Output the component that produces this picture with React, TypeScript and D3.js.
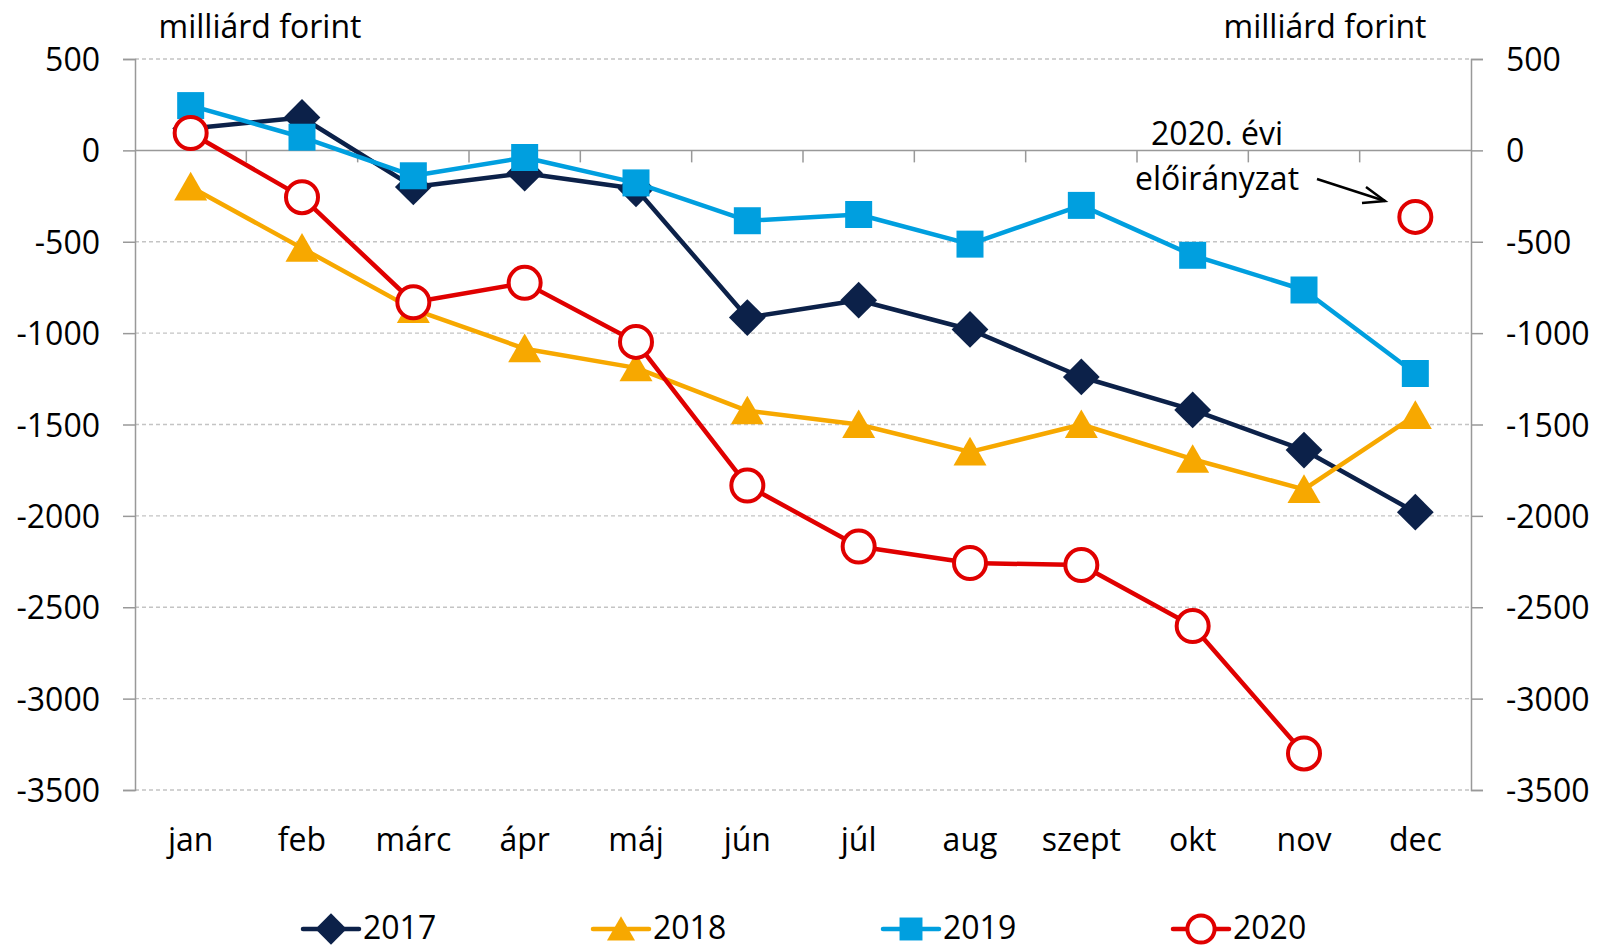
import * as d3 from 'd3';
import { useEffect, useRef } from 'react';

const months = ['jan', 'feb', 'márc', 'ápr', 'máj', 'jún', 'júl', 'aug', 'szept', 'okt', 'nov', 'dec'];
const yTicks = [500, 0, -500, -1000, -1500, -2000, -2500, -3000, -3500];

const values2017 = [120, 180, -200, -125, -210, -915, -820, -980, -1240, -1420, -1640, -1980];
const values2018 = [-200, -535, -870, -1085, -1190, -1425, -1500, -1650, -1500, -1690, -1855, -1450];
const values2019 = [245, 72, -139, -39, -178, -385, -351, -513, -301, -574, -764, -1221];
// 2020: tényadatok jan-nov, dec = előirányzat (külön pont)
const values2020 = [95, -256, -831, -725, -1048, -1834, -2168, -2258, -2269, -2603, -3300, null];
const forecast2020 = { month: 'dec', value: -364 };

const seriesNames = ['2017', '2018', '2019', '2020'];

const W = 1598;
const H = 949;
const FONT = '"Open Sans", sans-serif';
const FS = 32;

export default function App() {
    const ref = useRef<SVGSVGElement>(null);

    useEffect(() => {
        document.body.style.margin = '0';
        const svg = d3.select(ref.current);
        svg.selectAll('*').remove();

        const left = 135, right = 1471, top = 59, bottom = 790;

        const x = d3.scaleBand<string>().domain(months).range([left, right]);
        const y = d3.scaleLinear().domain([-3500, 500]).range([bottom, top]);
        const cx = (m: string) => x(m)! + x.bandwidth() / 2;

        const colors = ['#0c2149', '#f7a800', '#009fdf', '#e00000'];

        // gridlines
        svg.append('g')
            .selectAll('line')
            .data(yTicks.filter(t => t !== 0))
            .join('line')
            .attr('x1', left).attr('x2', right)
            .attr('y1', d => y(d)).attr('y2', d => y(d))
            .attr('stroke', '#c4c4c4')
            .attr('stroke-width', 1.3)
            .attr('stroke-dasharray', '4,3');

        // y axes (both sides)
        const axisColor = '#999999';
        const leftAxis = svg.append('g').attr('transform', `translate(${left},0)`)
            .call(d3.axisLeft(y).tickValues(yTicks).tickSize(12).tickFormat(d => String(d)));
        const rightAxis = svg.append('g').attr('transform', `translate(${right},0)`)
            .call(d3.axisRight(y).tickValues(yTicks).tickSize(12).tickFormat(d => String(d)));
        [leftAxis, rightAxis].forEach(a => {
            a.select('.domain').attr('stroke', axisColor).attr('stroke-width', 1.5);
            a.selectAll('.tick line').attr('stroke', axisColor).attr('stroke-width', 1.5);
            a.selectAll('.tick text')
                .attr('font-family', FONT)
                .attr('font-size', FS)
                .attr('fill', '#000');
        });
        leftAxis.selectAll('.tick text').attr('x', -35).attr('dy', '0.36em');
        rightAxis.selectAll('.tick text').attr('x', 35).attr('dy', '0.36em');

        // x axis at zero
        const xAxis = svg.append('g').attr('transform', `translate(0,${y(0)})`);
        xAxis.append('line')
            .attr('x1', left).attr('x2', right)
            .attr('stroke', axisColor).attr('stroke-width', 1.5);
        xAxis.selectAll('line.tk')
            .data(months.slice(1))
            .join('line')
            .attr('class', 'tk')
            .attr('x1', d => x(d)!).attr('x2', d => x(d)!)
            .attr('y1', 0).attr('y2', 12)
            .attr('stroke', axisColor).attr('stroke-width', 1.5);

        // category labels
        svg.append('g')
            .selectAll('text')
            .data(months)
            .join('text')
            .attr('x', d => cx(d))
            .attr('y', 851)
            .attr('text-anchor', 'middle')
            .attr('font-family', FONT)
            .attr('font-size', FS)
            .text(d => d);

        // unit labels
        svg.append('text').attr('x', 260).attr('y', 38).attr('text-anchor', 'middle')
            .attr('font-family', FONT).attr('font-size', FS).text('milliárd forint');
        svg.append('text').attr('x', 1325).attr('y', 38).attr('text-anchor', 'middle')
            .attr('font-family', FONT).attr('font-size', FS).text('milliárd forint');

        const allSeries = [values2017, values2018, values2019, values2020];

        const drawMarker = (g: any, i: number, px: number, py: number, scale = 1) => {
            if (i === 3) {
                g.append('circle')
                    .attr('cx', px).attr('cy', py).attr('r', 16 * scale)
                    .attr('fill', '#fff')
                    .attr('stroke', colors[3])
                    .attr('stroke-width', 4);
                return;
            }
            let path: string | null;
            if (i === 0) path = d3.symbol(d3.symbolSquare, (26 * scale) ** 2)();
            else if (i === 1) path = d3.symbol(d3.symbolTriangle, (33 * scale) ** 2 * 0.433)();
            else path = d3.symbol(d3.symbolSquare, (27 * scale) ** 2)();
            const rot = i === 0 ? 45 : 0;
            const dy = i === 1 ? 4 * scale : 0;
            g.append('path')
                .attr('d', path)
                .attr('transform', `translate(${px},${py + dy}) rotate(${rot})`)
                .attr('fill', colors[i]);
        };

        allSeries.forEach((vals, i) => {
            const g = svg.append('g');
            const pts = months.map((m, k) => ({ m, v: vals[k] }));
            const line = d3.line<{ m: string; v: number | null }>()
                .defined(d => d.v !== null)
                .x(d => cx(d.m))
                .y(d => y(d.v as number));
            g.append('path')
                .datum(pts)
                .attr('fill', 'none')
                .attr('stroke', colors[i])
                .attr('stroke-width', 4.5)
                .attr('stroke-linejoin', 'round')
                .attr('d', line);
            pts.filter(d => d.v !== null).forEach(d => drawMarker(g, i, cx(d.m), y(d.v as number)));
            if (i === 3) drawMarker(g, 3, cx(forecast2020.month), y(forecast2020.value));
        });

        // annotation
        svg.append('text').attr('x', 1217).attr('y', 145).attr('text-anchor', 'middle')
            .attr('font-family', FONT).attr('font-size', FS).text('2020. évi');
        svg.append('text').attr('x', 1217).attr('y', 190).attr('text-anchor', 'middle')
            .attr('font-family', FONT).attr('font-size', FS).text('előirányzat');
        svg.append('line').attr('x1', 1317).attr('y1', 179).attr('x2', 1385).attr('y2', 201)
            .attr('stroke', '#000').attr('stroke-width', 2.5);
        svg.append('path').attr('d', 'M1366,187 L1385,201 L1362,203')
            .attr('fill', 'none').attr('stroke', '#000').attr('stroke-width', 2.5);

        // legend
        const legendX = [303, 593, 883, 1173];
        const legendY = 929;
        seriesNames.forEach((name, i) => {
            const g = svg.append('g');
            g.append('line')
                .attr('x1', legendX[i]).attr('x2', legendX[i] + 56)
                .attr('y1', legendY).attr('y2', legendY)
                .attr('stroke', colors[i]).attr('stroke-width', 4.5).attr('stroke-linecap', 'round');
            drawMarker(g, i, legendX[i] + 28, legendY, 0.85);
            g.append('text')
                .attr('x', legendX[i] + 60)
                .attr('y', 939)
                .attr('font-family', FONT)
                .attr('font-size', FS)
                .text(name);
        });
    }, []);

    return <svg ref={ref} width={W} height={H} style={{ display: 'block', background: '#fff' }} />;
}
